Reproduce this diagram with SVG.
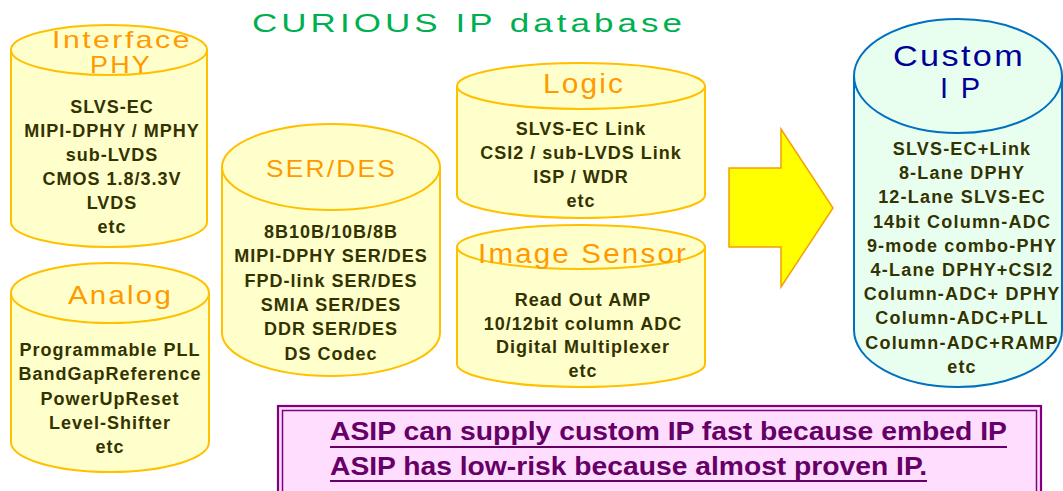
<svg xmlns="http://www.w3.org/2000/svg" width="1063" height="491" viewBox="0 0 1063 491">
<defs>
<style>
.cyl{fill:#ffffcc;stroke:#ffc000;stroke-width:2}
.cylc{fill:#e8fff0;stroke:#0070c0;stroke-width:2}
.lbl{font-family:"Liberation Sans",Arial,sans-serif;font-size:26px;fill:#ff9900;letter-spacing:2px}
.lblc{font-family:"Liberation Sans",Arial,sans-serif;font-size:29px;fill:#000099;letter-spacing:2px}
.ttl{font-family:"Liberation Sans",Arial,sans-serif;font-size:26px;fill:#00b050;letter-spacing:3px}
.body{font-family:"Liberation Sans",Arial,sans-serif;font-size:18px;font-weight:bold;fill:#333300;text-anchor:middle;letter-spacing:1px}
.note{font-family:"Liberation Sans Narrow","Liberation Sans",Arial,sans-serif;font-size:26px;font-weight:bold;fill:#660066}
</style>
</defs>
<rect width="1063" height="491" fill="#ffffff"/>
<g id="title">
<text class="ttl" x="252" y="32" textLength="434" lengthAdjust="spacingAndGlyphs">CURIOUS IP database</text>
</g>

<g id="interface-phy">
<path class="cyl" d="M11,50 V222 A98,25 0 0 0 207,222 V50 Z"/>
<ellipse class="cyl" cx="109" cy="50" rx="98" ry="25"/>
<text class="lbl" x="52" y="48" textLength="140" lengthAdjust="spacingAndGlyphs" style="font-size:24px">Interface</text>
<text class="lbl" x="90" y="73" textLength="62" lengthAdjust="spacingAndGlyphs" style="font-size:24px">PHY</text>
<text class="body" y="113"><tspan x="112">SLVS-EC</tspan><tspan x="112" dy="24">MIPI-DPHY / MPHY</tspan><tspan x="112" dy="24">sub-LVDS</tspan><tspan x="112" dy="24">CMOS 1.8/3.3V</tspan><tspan x="112" dy="24">LVDS</tspan><tspan x="112" dy="24">etc</tspan></text>
</g>

<g id="analog">
<path class="cyl" d="M11,293 V442 A99,30 0 0 0 209,442 V293 Z"/>
<ellipse class="cyl" cx="110" cy="293" rx="99" ry="30"/>
<text class="lbl" x="68" y="304" textLength="105" lengthAdjust="spacingAndGlyphs">Analog</text>
<text class="body" y="356"><tspan x="110">Programmable PLL</tspan><tspan x="110" dy="24.3">BandGapReference</tspan><tspan x="110" dy="24.3">PowerUpReset</tspan><tspan x="110" dy="24.3">Level-Shifter</tspan><tspan x="110" dy="24.3">etc</tspan></text>
</g>

<g id="ser-des">
<path class="cyl" d="M222,167 V333 A109,43 0 0 0 440,333 V167 Z"/>
<ellipse class="cyl" cx="331" cy="167" rx="109" ry="43"/>
<text class="lbl" x="266" y="177" textLength="131" lengthAdjust="spacingAndGlyphs" style="font-size:24px">SER/DES</text>
<text class="body" y="238"><tspan x="331">8B10B/10B/8B</tspan><tspan x="331" dy="24.3">MIPI-DPHY SER/DES</tspan><tspan x="331" dy="24.3">FPD-link SER/DES</tspan><tspan x="331" dy="24.3">SMIA SER/DES</tspan><tspan x="331" dy="24.3">DDR SER/DES</tspan><tspan x="331" dy="24.3">DS Codec</tspan></text>
</g>

<g id="logic">
<path class="cyl" d="M457,86 V195 A124,23 0 0 0 705,195 V86 Z"/>
<ellipse class="cyl" cx="581" cy="86" rx="124" ry="23"/>
<text class="lbl" x="543" y="93" textLength="82" lengthAdjust="spacingAndGlyphs" style="font-size:28px">Logic</text>
<text class="body" y="135"><tspan x="581">SLVS-EC Link</tspan><tspan x="581" dy="24">CSI2 / sub-LVDS Link</tspan><tspan x="581" dy="24">ISP / WDR</tspan><tspan x="581" dy="24">etc</tspan></text>
</g>

<g id="image-sensor">
<path class="cyl" d="M457,247 V364 A124,23 0 0 0 705,364 V247 Z"/>
<ellipse class="cyl" cx="581" cy="247" rx="124" ry="22"/>
<text class="lbl" x="478" y="263" textLength="210" lengthAdjust="spacingAndGlyphs" style="font-size:27px">Image Sensor</text>
<text class="body" y="306"><tspan x="583">Read Out AMP</tspan><tspan x="583" dy="23.7">10/12bit column ADC</tspan><tspan x="583" dy="23.7">Digital Multiplexer</tspan><tspan x="583" dy="23.7">etc</tspan></text>
</g>

<g id="arrow">
<polygon points="729,168 781,168 781,129 833,208 781,287 781,247 729,247" fill="#ffff00" stroke="#f5a000" stroke-width="1.5"/>
</g>

<g id="custom-ip">
<path class="cylc" d="M854,76 V330 A104,57 0 0 0 1062,330 V76 Z"/>
<ellipse class="cylc" cx="958" cy="76" rx="104" ry="57"/>
<text class="lblc" x="893" y="66" textLength="132" lengthAdjust="spacingAndGlyphs">Custom</text>
<text class="lblc" x="940" y="98" textLength="42" lengthAdjust="spacing">I P</text>
<text class="body" y="155" style="letter-spacing:1.2px"><tspan x="962">SLVS-EC+Link</tspan><tspan x="962" dy="24.2">8-Lane DPHY</tspan><tspan x="962" dy="24.2">12-Lane SLVS-EC</tspan><tspan x="962" dy="24.2">14bit Column-ADC</tspan><tspan x="962" dy="24.2">9-mode combo-PHY</tspan><tspan x="962" dy="24.2">4-Lane DPHY+CSI2</tspan><tspan x="962" dy="24.2">Column-ADC+ DPHY</tspan><tspan x="962" dy="24.2">Column-ADC+PLL</tspan><tspan x="962" dy="24.2">Column-ADC+RAMP</tspan><tspan x="962" dy="24.2">etc</tspan></text>
</g>

<g id="note">
<rect x="278" y="406" width="763" height="100" fill="#ffddff" stroke="#800080" stroke-width="2.2"/>
<rect x="282.5" y="410.5" width="754" height="91" fill="none" stroke="#800080" stroke-width="1.5"/>
<text class="note" x="330" y="440" textLength="677" lengthAdjust="spacingAndGlyphs">ASIP can supply custom IP fast because embed IP</text>
<text class="note" x="330" y="475" textLength="597" lengthAdjust="spacingAndGlyphs">ASIP has low-risk because almost proven IP.</text>
<line x1="330" y1="447" x2="1007" y2="447" stroke="#660066" stroke-width="2"/>
<line x1="330" y1="481" x2="927" y2="481" stroke="#660066" stroke-width="2"/>
</g>
</svg>
